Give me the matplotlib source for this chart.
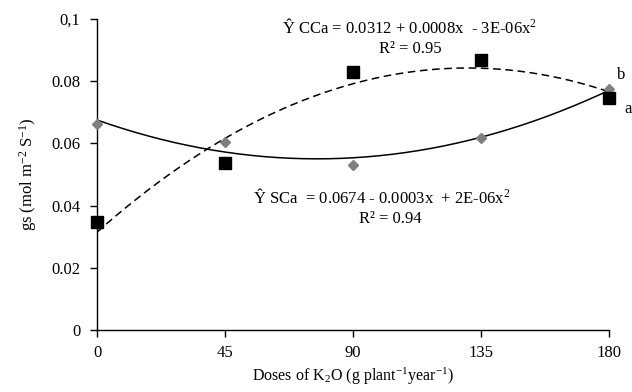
import numpy as np
import matplotlib
matplotlib.use("Agg")
import matplotlib.pyplot as plt

plt.rcParams['font.family'] = ['Liberation Serif', 'DejaVu Serif']
plt.rcParams['mathtext.fontset'] = 'custom'
plt.rcParams['mathtext.rm'] = 'Liberation Serif'
plt.rcParams['mathtext.it'] = 'Liberation Serif:italic'

doses = [0, 45, 90, 135, 180]
cca = [0.0348, 0.0537, 0.0831, 0.0869, 0.0746]   # squares, dashed fit
sca = [0.0663, 0.0605, 0.0530, 0.0619, 0.0775]   # diamonds, solid fit
yticks = [0, 0.02, 0.04, 0.06, 0.08, 0.1]
yticklabels = ['0', '0.02', '0.04', '0.06', '0.08', '0,1']
xticks = [0, 45, 90, 135, 180]

fig = plt.figure(figsize=(6.32, 3.92), dpi=100)
ax = fig.add_axes([0.1535, 0.158, 0.81, 0.7935])

xs = np.linspace(0, 180, 200)
p_cca = np.polyfit(doses, cca, 2)
p_sca = np.polyfit(doses, sca, 2)
ax.plot(xs, np.polyval(p_sca, xs), color='black', lw=1.1, zorder=2)
ax.plot(xs, np.polyval(p_cca, xs), color='black', lw=1.1, ls=(0, (5, 3)), zorder=2)
ax.plot(doses, sca, ls='none', marker='D', ms=5, color='#7f7f7f', zorder=3, clip_on=False)
ax.plot(doses, cca, ls='none', marker='s', ms=8.5, color='black', zorder=4, clip_on=False)

ax.set_xlim(0, 180)
ax.set_ylim(0, 0.1)
ax.set_xticks(xticks)
ax.set_xticklabels([str(v) for v in xticks])
ax.set_yticks(yticks)
ax.set_yticklabels(yticklabels)
for s in ['top', 'right']:
    ax.spines[s].set_visible(False)
for s in ['left', 'bottom']:
    ax.spines[s].set_linewidth(1.0)
ax.tick_params(axis='both', direction='out', length=5, width=1.0, labelsize=12)
ax.tick_params(axis='y', pad=7)
ax.tick_params(axis='x', pad=6)

ax.set_xlabel('Doses of K$_2$O (g plant$^{-1}$year$^{-1}$)', fontsize=11.5, labelpad=3)
ax.set_ylabel('gs (mol m$^{-2}$ S$^{-1}$)', fontsize=12, labelpad=9)

ax.text(110, 0.0973, 'Ŷ CCa = 0.0312 + 0.0008x  - 3E-06x$^2$', ha='center', va='center', fontsize=12)
ax.text(110, 0.0905, 'R² = 0.95', ha='center', va='center', fontsize=12)
ax.text(100, 0.0425, 'Ŷ SCa  = 0.0674 - 0.0003x  + 2E-06x$^2$', ha='center', va='center', fontsize=12)
ax.text(103, 0.0358, 'R² = 0.94', ha='center', va='center', fontsize=12)
ax.text(183, 0.0820, 'b', ha='left', va='center', fontsize=12, clip_on=False)
ax.text(185.5, 0.0710, 'a', ha='left', va='center', fontsize=12, clip_on=False)

fig.savefig('out.png', dpi=100)
